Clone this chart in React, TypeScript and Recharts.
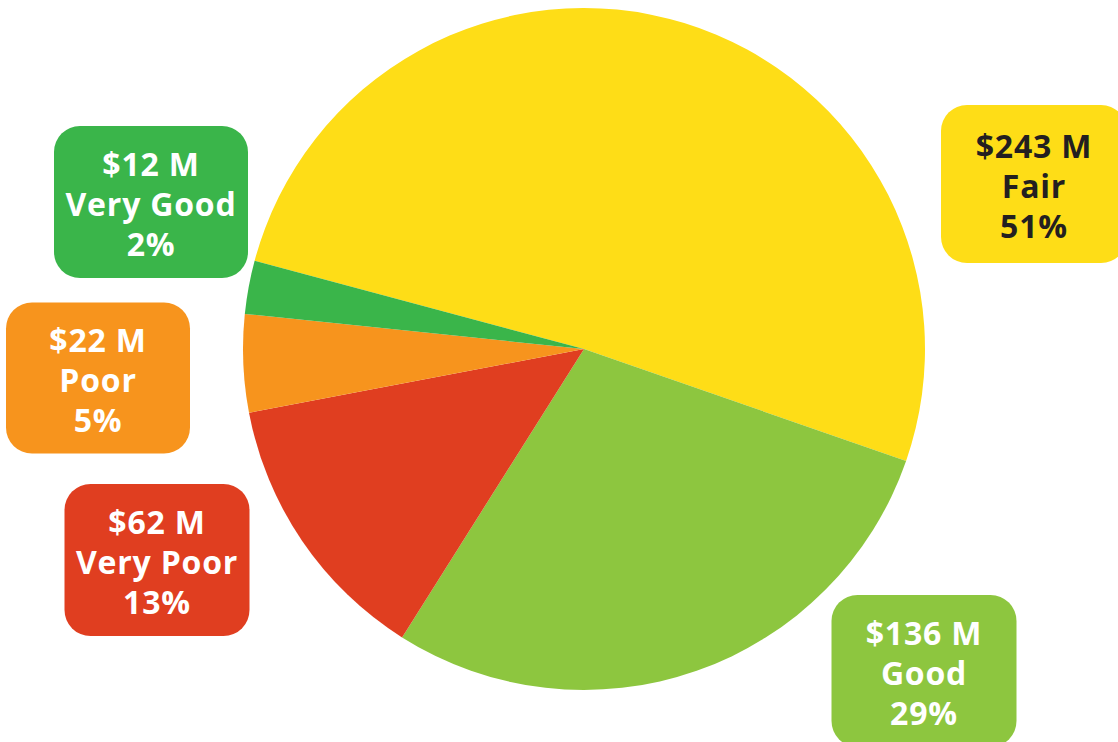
import { PieChart, Pie, Cell } from "recharts";

const categories = ["Fair", "Good", "Very Poor", "Poor", "Very Good"];
const values = [243, 136, 62, 22, 12];
const amountLabels = ["$243 M", "$136 M", "$62 M", "$22 M", "$12 M"];
const percentLabels = ["51%", "29%", "13%", "5%", "2%"];

const colors = ["#FEDD17", "#8DC63F", "#E03E20", "#F7941D", "#3AB54A"];
const textColors = ["#231F20", "#fff", "#fff", "#fff", "#fff"];
// label box center (relative to pie center) and box size
const boxes = [
  { dx: 450, dy: -165, w: 186, h: 158 },
  { dx: 340, dy: 322, w: 185, h: 152 },
  { dx: -427, dy: 211, w: 185, h: 152 },
  { dx: -486, dy: 29, w: 184, h: 151 },
  { dx: -433, dy: -147, w: 194, h: 152 },
];

const W = 1118;
const H = 742;
const CX = 584;
const CY = 349;

const data = categories.map((name, i) => ({ name, value: values[i] }));

function renderLabel(props: any) {
  const i = props.index;
  const b = boxes[i];
  const cx = typeof props.cx === "number" ? props.cx : CX;
  const cy = typeof props.cy === "number" ? props.cy : CY;
  const x = cx + b.dx;
  const y = cy + b.dy;
  return (
    <g key={`lbl-${i}`}>
      <rect x={x - b.w / 2} y={y - b.h / 2} width={b.w} height={b.h} rx={26} ry={26} fill={colors[i]} />
      <text
        x={x}
        textAnchor="middle"
        fill={textColors[i]}
        fontFamily="'Open Sans', Lato, sans-serif"
        fontWeight={700}
        fontSize={32}
        letterSpacing={0.8}
      >
        <tspan x={x} y={y - 26}>{amountLabels[i]}</tspan>
        <tspan x={x} y={y + 14}>{categories[i]}</tspan>
        <tspan x={x} y={y + 54}>{percentLabels[i]}</tspan>
      </text>
    </g>
  );
}

export default function App() {
  return (
    <div style={{ width: W, height: H, background: "#fff" }}>
      <style>{`body{margin:0}`}</style>
      <PieChart width={W} height={H} margin={{ top: 0, right: 0, bottom: 0, left: 0 }}>
        <Pie
          data={data}
          dataKey="value"
          nameKey="name"
          cx={CX}
          cy={CY}
          outerRadius={341}
          startAngle={165}
          endAngle={-195}
          stroke="none"
          label={renderLabel}
          labelLine={false}
          isAnimationActive={false}
        >
          {data.map((d, i) => (
            <Cell key={d.name} fill={colors[i]} />
          ))}
        </Pie>
      </PieChart>
    </div>
  );
}
